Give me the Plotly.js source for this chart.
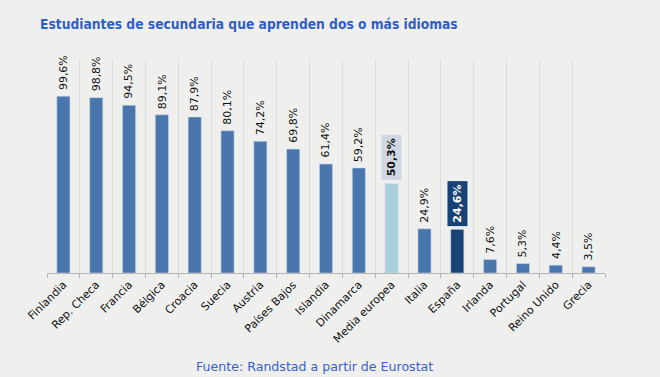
<!DOCTYPE html>
<html>
<head>
<meta charset="utf-8">
<script src="https://cdn.plot.ly/plotly-3.0.1.min.js"></script>
<style>
  html, body { margin: 0; padding: 0; background: #eff0ee; }
  #chart { width: 660px; height: 377px; }
</style>
</head>
<body>
<div id="chart"></div>
<script>
const categories = ["Finlandia", "Rep. Checa", "Francia", "Bélgica", "Croacia", "Suecia", "Austria", "Países Bajos", "Islandia", "Dinamarca", "Media europea", "Italia", "España", "Irlanda", "Portugal", "Reino Unido", "Grecia"];
const values = [99.6, 98.8, 94.5, 89.1, 87.9, 80.1, 74.2, 69.8, 61.4, 59.2, 50.3, 24.9, 24.6, 7.6, 5.3, 4.4, 3.5];
const highlightAvg = "Media europea";
const highlightSpain = "España";

const baseColor = "#4a76ae";
const avgColor = "#a9d0da";
const spainColor = "#174275";

const colors = categories.map(c => c === highlightAvg ? avgColor : (c === highlightSpain ? spainColor : baseColor));
const fmt = v => v.toFixed(1).replace(".", ",") + "%";

const trace = {
  type: "bar",
  x: categories,
  y: values,
  marker: { color: colors, line: { color: "rgba(200,215,235,0.6)", width: 1 } },
  hoverinfo: "skip"
};

const annotations = categories.map((c, i) => {
  const isAvg = c === highlightAvg, isEs = c === highlightSpain;
  const a = {
    x: c, y: values[i], xref: "x", yref: "y",
    text: (isAvg || isEs) ? "<b>" + fmt(values[i]) + "</b>" : fmt(values[i]),
    showarrow: false, textangle: -90,
    xanchor: "center", yanchor: "bottom",
    yshift: (isAvg || isEs) ? 3 : 4,
    font: { family: "DejaVu Sans", size: 11, color: isEs ? "#ffffff" : "#111111" }
  };
  if (isAvg) { a.bgcolor = "#cfd8e2"; a.borderpad = 3; }
  if (isEs) { a.bgcolor = spainColor; a.borderpad = 3; }
  return a;
});

annotations.push({
  xref: "paper", yref: "paper", x: 0.48, y: -0.437,
  text: "Fuente: Randstad a partir de Eurostat",
  showarrow: false, xanchor: "center", yanchor: "middle",
  font: { family: "DejaVu Sans", size: 12.6, color: "#3a5fcd" }
});

const layout = {
  width: 660, height: 377,
  paper_bgcolor: "#eff0ee", plot_bgcolor: "#eff0ee",
  margin: { l: 47, r: 55, t: 60, b: 104 },
  title: {
    text: "<b>Estudiantes de secundaria que aprenden dos o más idiomas</b>",
    xref: "container", yref: "container", x: 40/660, xanchor: "left",
    y: 1 - 24/377, yanchor: "middle",
    font: { family: "DejaVu Sans Condensed, DejaVu Sans", size: 13.7, color: "#2f5fc4" }
  },
  bargap: 0.6,
  showlegend: false,
  xaxis: {
    type: "category",
    tickson: "boundaries", ticks: "outside", ticklen: 4, tickcolor: "#b5b5b5",
    showgrid: true, gridcolor: "#dcdddb", gridwidth: 1,
    showline: true, linecolor: "#b5b5b5", linewidth: 1,
    tickangle: -45,
    tickfont: { family: "DejaVu Sans", size: 11, color: "#111111" },
    fixedrange: true
  },
  yaxis: { range: [0, 120], visible: false, showgrid: false, zeroline: false, fixedrange: true },
  annotations: annotations
};

Plotly.newPlot("chart", [trace], layout, { displayModeBar: false, staticPlot: true });
</script>
</body>
</html>
